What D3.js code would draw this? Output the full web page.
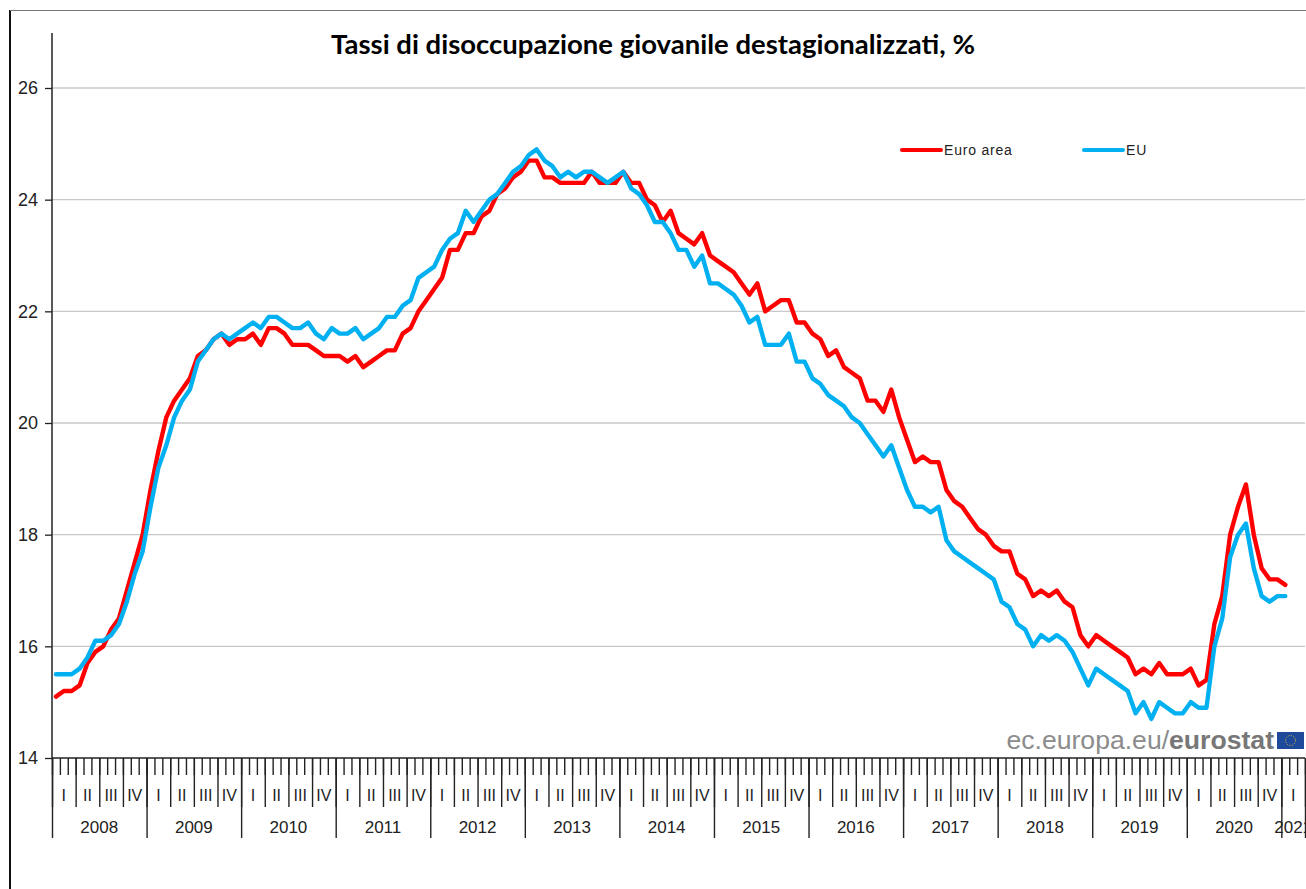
<!DOCTYPE html>
<html>
<head>
<meta charset="utf-8">
<script src="https://cdn.jsdelivr.net/npm/d3@7"></script>
<style>
  html, body { margin: 0; padding: 0; background: #fff; }
  svg { display: block; }
  text { font-family: "Liberation Sans", Arial, sans-serif; }
  text.title { font-family: Lato, sans-serif; font-weight: bold; }
</style>
</head>
<body>
<div id="wrapper"></div>
<script>
const titleText = "Tassi di disoccupazione giovanile destagionalizzati, %";
const years = ["2008","2009","2010","2011","2012","2013","2014","2015","2016","2017","2018","2019","2020","2021"];
const quarters = ["I","II","III","IV"];
const yTicks = [14,16,18,20,22,24,26];
const seriesNames = ["Euro area","EU"];

// monthly values, jan 2008 -> jan 2021
const euroArea = [
  15.1,15.2,15.2,15.3,15.7,15.9,16.0,16.3,16.5,17.0,17.5,18.0,
  18.8,19.5,20.1,20.4,20.6,20.8,21.2,21.3,21.5,21.6,21.4,21.5,
  21.5,21.6,21.4,21.7,21.7,21.6,21.4,21.4,21.4,21.3,21.2,21.2,
  21.2,21.1,21.2,21.0,21.1,21.2,21.3,21.3,21.6,21.7,22.0,22.2,
  22.4,22.6,23.1,23.1,23.4,23.4,23.7,23.8,24.1,24.2,24.4,24.5,
  24.7,24.7,24.4,24.4,24.3,24.3,24.3,24.3,24.5,24.3,24.3,24.3,
  24.5,24.3,24.3,24.0,23.9,23.6,23.8,23.4,23.3,23.2,23.4,23.0,
  22.9,22.8,22.7,22.5,22.3,22.5,22.0,22.1,22.2,22.2,21.8,21.8,
  21.6,21.5,21.2,21.3,21.0,20.9,20.8,20.4,20.4,20.2,20.6,20.1,
  19.7,19.3,19.4,19.3,19.3,18.8,18.6,18.5,18.3,18.1,18.0,17.8,
  17.7,17.7,17.3,17.2,16.9,17.0,16.9,17.0,16.8,16.7,16.2,16.0,
  16.2,16.1,16.0,15.9,15.8,15.5,15.6,15.5,15.7,15.5,15.5,15.5,
  15.6,15.3,15.4,16.4,16.9,18.0,18.5,18.9,18.0,17.4,17.2,17.2,
  17.1
];
const eu = [
  15.5,15.5,15.5,15.6,15.8,16.1,16.1,16.2,16.4,16.8,17.3,17.7,
  18.5,19.2,19.6,20.1,20.4,20.6,21.1,21.3,21.5,21.6,21.5,21.6,
  21.7,21.8,21.7,21.9,21.9,21.8,21.7,21.7,21.8,21.6,21.5,21.7,
  21.6,21.6,21.7,21.5,21.6,21.7,21.9,21.9,22.1,22.2,22.6,22.7,
  22.8,23.1,23.3,23.4,23.8,23.6,23.8,24.0,24.1,24.3,24.5,24.6,
  24.8,24.9,24.7,24.6,24.4,24.5,24.4,24.5,24.5,24.4,24.3,24.4,
  24.5,24.2,24.1,23.9,23.6,23.6,23.4,23.1,23.1,22.8,23.0,22.5,
  22.5,22.4,22.3,22.1,21.8,21.9,21.4,21.4,21.4,21.6,21.1,21.1,
  20.8,20.7,20.5,20.4,20.3,20.1,20.0,19.8,19.6,19.4,19.6,19.2,
  18.8,18.5,18.5,18.4,18.5,17.9,17.7,17.6,17.5,17.4,17.3,17.2,
  16.8,16.7,16.4,16.3,16.0,16.2,16.1,16.2,16.1,15.9,15.6,15.3,
  15.6,15.5,15.4,15.3,15.2,14.8,15.0,14.7,15.0,14.9,14.8,14.8,
  15.0,14.9,14.9,16.0,16.5,17.6,18.0,18.2,17.4,16.9,16.8,16.9,
  16.9
];

const colors = ["#ff0000", "#00b0f0"];
const monthsOnAxis = 159; // axis stops at mar 2021

const width = 1306, height = 889;
const plotLeft = 52, plotRight = 1305, plotTop = 33, plotBottom = 758;

const svg = d3.select("#wrapper").append("svg")
  .attr("width", width)
  .attr("height", height);

// outer frame bits of the screenshot
svg.append("line").attr("x1",10).attr("x2",10).attr("y1",10).attr("y2",height).attr("stroke","#111").attr("stroke-width",2);
svg.append("line").attr("x1",10).attr("x2",width).attr("y1",10.5).attr("y2",10.5).attr("stroke","#777").attr("stroke-width",1.2);

const xScale = d3.scaleLinear().domain([0, monthsOnAxis]).range([plotLeft, plotRight]);
const yScale = d3.scaleLinear().domain([14, 26]).range([plotBottom, 88]);

// gridlines
svg.append("g").selectAll("line")
  .data(yTicks.filter(d => d > 14))
  .join("line")
  .attr("x1", plotLeft).attr("x2", plotRight)
  .attr("y1", d => yScale(d)).attr("y2", d => yScale(d))
  .attr("stroke", "#c8c8c8").attr("stroke-width", 1.3);

// y axis
const yAxis = svg.append("g")
  .attr("transform", `translate(${plotLeft},0)`)
  .call(d3.axisLeft(yScale).tickValues(yTicks).tickSize(7).tickPadding(7).tickFormat(d3.format("d")));
yAxis.select(".domain").remove();
yAxis.selectAll("line").attr("stroke", "#222").attr("stroke-width", 1.3);
yAxis.selectAll("text").attr("font-size", 18).attr("fill", "#222");
svg.append("line").attr("x1",plotLeft).attr("x2",plotLeft).attr("y1",plotTop).attr("y2",plotBottom).attr("stroke","#222").attr("stroke-width",1.5);

// x axis: three tick levels
const monthTicks = d3.range(0, monthsOnAxis + 1);
const quarterTicks = monthTicks.filter(d => d % 3 == 0);
const yearTicks = monthTicks.filter(d => d % 12 == 0).concat([monthsOnAxis]);

const xAxisLayer = (values, size) => {
  const g = svg.append("g")
    .attr("transform", `translate(0,${plotBottom})`)
    .call(d3.axisBottom(xScale).tickValues(values).tickSize(size).tickFormat(""));
  g.select(".domain").remove();
  g.selectAll("line").attr("stroke", "#222").attr("stroke-width", 1.4);
  return g;
};
xAxisLayer(monthTicks, 17);
xAxisLayer(quarterTicks, 49);
xAxisLayer(yearTicks, 80);
svg.append("line").attr("x1",plotLeft).attr("x2",plotRight).attr("y1",plotBottom).attr("y2",plotBottom).attr("stroke","#222").attr("stroke-width",1.5);

// clip so the 2021 label gets cut like in the original
svg.append("clipPath").attr("id","axisClip").append("rect")
  .attr("x",0).attr("y",0).attr("width",plotRight).attr("height",height);

const labels = svg.append("g").attr("clip-path","url(#axisClip)");
const quarterData = d3.range(0, monthsOnAxis, 3).map(m => ({ m, q: quarters[(m / 3) % 4] }));
labels.selectAll(".q").data(quarterData).join("text")
  .attr("class","q")
  .attr("x", d => xScale(d.m + 1.5))
  .attr("y", 801)
  .attr("text-anchor","middle")
  .attr("font-size", 16)
  .attr("fill","#222")
  .text(d => d.q);
labels.selectAll(".y").data(years).join("text")
  .attr("class","y")
  .attr("x", (d, i) => xScale((i * 12 + Math.min(i * 12 + 12, monthsOnAxis)) / 2))
  .attr("y", 833)
  .attr("text-anchor","middle")
  .attr("font-size", 17)
  .attr("fill","#222")
  .text(d => d);

// eurostat mark
svg.append("text")
  .attr("x", 1274).attr("y", 749)
  .attr("text-anchor","end")
  .attr("font-size", 26.6)
  .attr("fill","#8c8c8c")
  .html('ec.europa.eu/<tspan font-weight="bold" fill="#777">eurostat</tspan>');
svg.append("rect").attr("x",1277).attr("y",732).attr("width",27).attr("height",17).attr("fill","#1f4a9c");
svg.append("circle").attr("cx",1290.5).attr("cy",740.5).attr("r",5).attr("fill","none").attr("stroke","#c9b52f").attr("stroke-width",1).attr("stroke-dasharray","1.2 1.4");

// lines, points sit mid month
const line = d3.line().x((d, i) => xScale(i + 0.5)).y(d => yScale(d));
[euroArea, eu].forEach((values, i) => {
  svg.append("path")
    .attr("d", line(values))
    .attr("fill","none")
    .attr("stroke", colors[i])
    .attr("stroke-width", 4.4)
    .attr("stroke-linejoin","round")
    .attr("stroke-linecap","round");
});

// legend
const legendX = [902, 1084];
seriesNames.forEach((name, i) => {
  svg.append("line")
    .attr("x1", legendX[i]).attr("x2", legendX[i] + 39)
    .attr("y1", 150).attr("y2", 150)
    .attr("stroke", colors[i]).attr("stroke-width", 4).attr("stroke-linecap","round");
  svg.append("text")
    .attr("x", legendX[i] + 42).attr("y", 155)
    .attr("font-size", 14)
    .attr("letter-spacing", 0.8)
    .attr("fill","#222")
    .text(name);
});

// title
svg.append("text")
  .attr("class","title")
  .attr("x", 653).attr("y", 54)
  .attr("text-anchor","middle")
  .attr("font-size", 27.5)
  .attr("fill","#000")
  .text(titleText);
</script>
</body>
</html>
